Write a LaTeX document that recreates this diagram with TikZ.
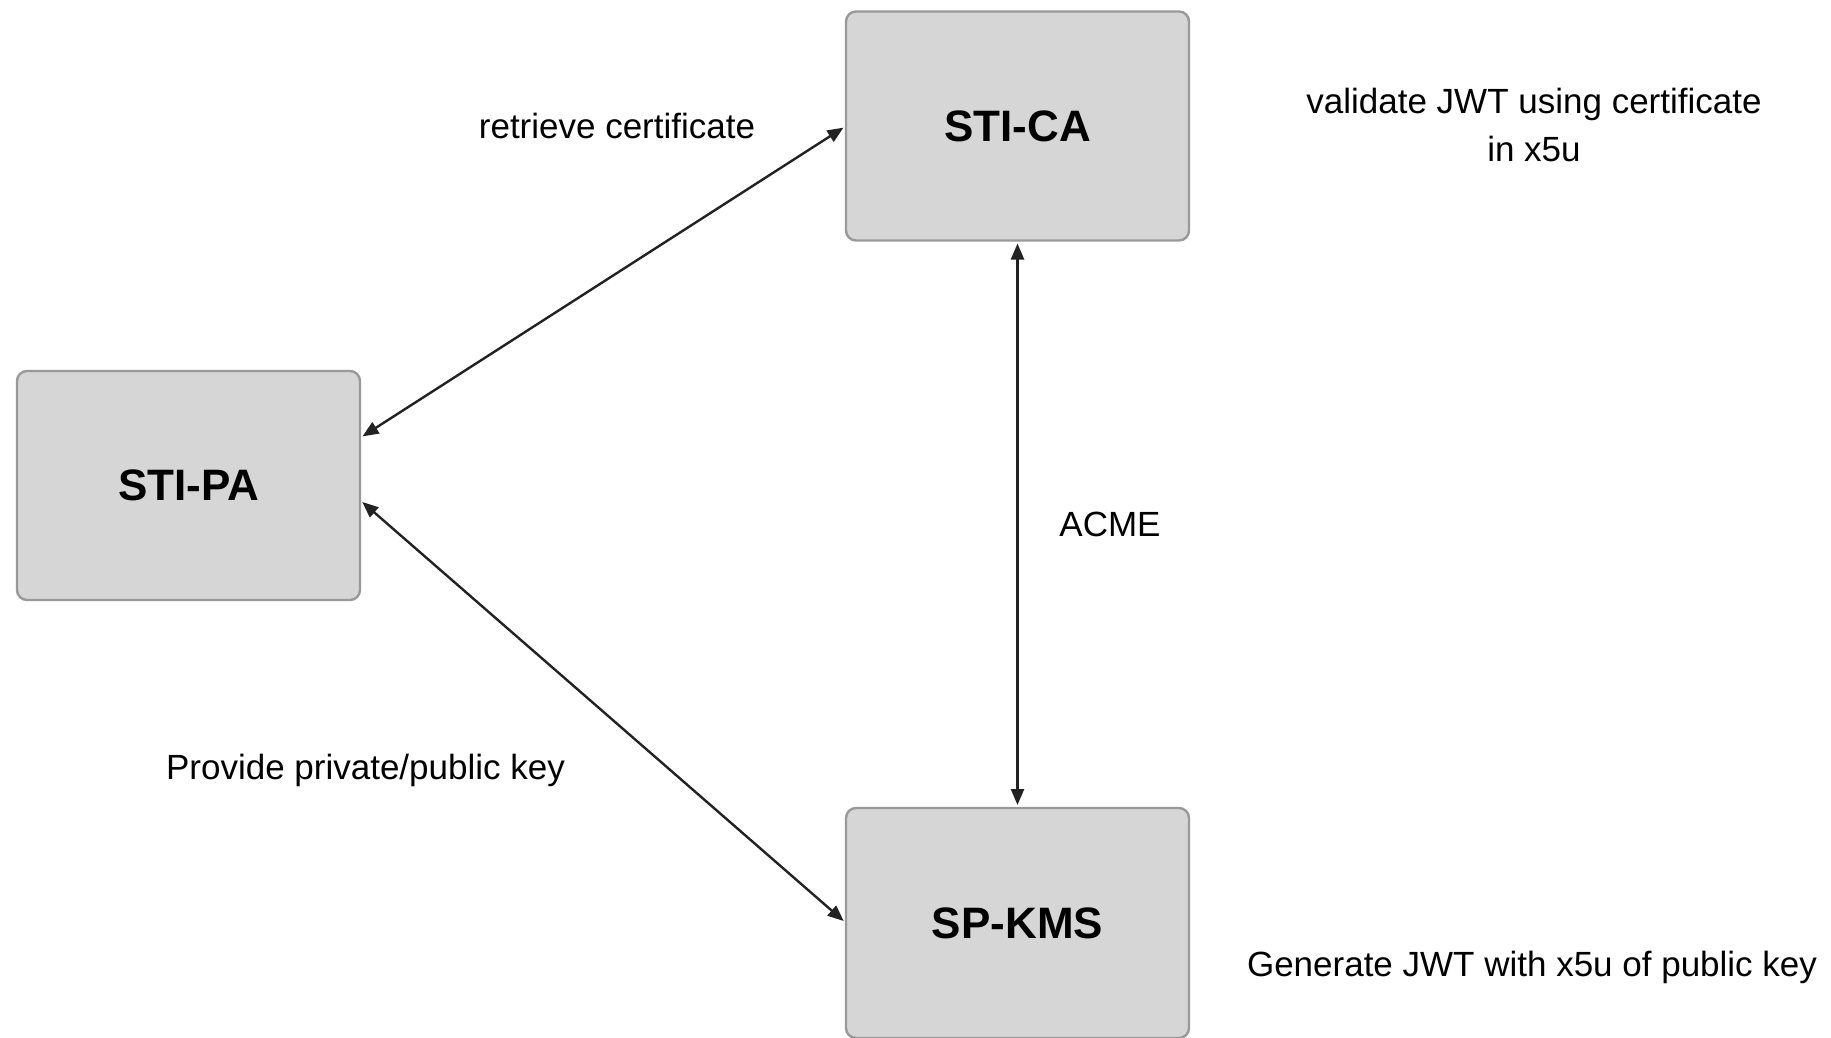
\documentclass[tikz,border=0pt]{standalone}
\usepackage{fontspec}
\setmainfont{Liberation Sans}
\usetikzlibrary{arrows.meta}
\definecolor{boxfill}{HTML}{D6D6D6}
\definecolor{boxline}{HTML}{999999}
\definecolor{arrowcol}{HTML}{222222}
\begin{document}
\begin{tikzpicture}[x=0.5pt,y=-0.5pt,
  sysbox/.style={draw=boxline,fill=boxfill,line width=1.2pt,rounded corners=5pt,
    minimum width=171.5pt,minimum height=114.5pt,inner sep=0pt,outer sep=0pt,
    font=\fontsize{22}{26}\selectfont\bfseries},
  lbl/.style={font=\fontsize{17.5}{23.5}\selectfont,inner sep=0pt,align=center},
  link/.style={draw=arrowcol,line width=1.2pt,{Triangle[length=8pt,width=6.5pt]}-{Triangle[length=8pt,width=6.5pt]},shorten <=1.5pt,shorten >=1.5pt}]
\useasboundingbox (0,0) rectangle (1831,1038);
\node[sysbox] (stica) at (1017.5,126) {STI-CA};
\node[sysbox] (stipa) at (188.5,485.5) {STI-PA};
\node[sysbox,minimum height=115pt] (spkms) at (1017.5,923) {SP-KMS};
\draw[link] (stica.west) -- ([yshift=23.75pt]stipa.east);
\draw[link] ([yshift=-7.25pt]stipa.east) -- (spkms.west);
\draw[link] (stica.south) -- (spkms.north);
\node[lbl,anchor=base] (l1) at (617,139) {retrieve certificate};
\node[lbl,anchor=base] (l2) at (1110,536) {ACME};
\node[lbl,anchor=base] (l3) at (365.5,779) {Provide private/public key};
\node[lbl,anchor=base] (l4a) at (1534,114) {validate JWT using certificate};
\node[lbl,anchor=base] (l4b) at (1534,162) {in x5u};
\node[lbl,anchor=base] (l5) at (1532,976) {Generate JWT with x5u of public key};
\end{tikzpicture}
\end{document}
